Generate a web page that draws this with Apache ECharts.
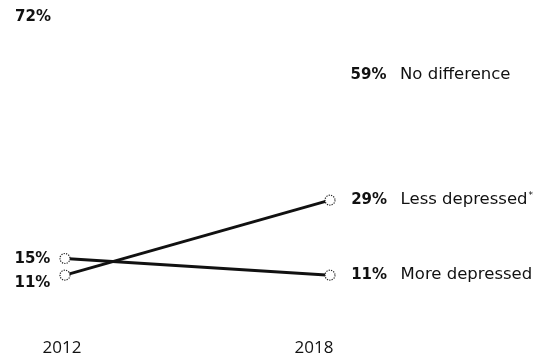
<!DOCTYPE html>
<html>
<head>
<meta charset="utf-8">
<script src="https://cdn.jsdelivr.net/npm/echarts@6/dist/echarts.min.js"></script>
<style>
  html, body { margin: 0; padding: 0; background: #fff; }
  #chart { width: 554px; height: 362px; }
</style>
</head>
<body>
<div id="chart"></div>
<script>
// years on the x axis
var years = ['2012', '2018'];

// series names and values (percent)
var names = ['No difference', 'Less depressed', 'More depressed'];
var noDifference = [72, 59];
var lessDepressed = [11, 29];
var moreDepressed = [15, 11];
var notes = ['', '*', ''];

var chart = echarts.init(document.getElementById('chart'));

// label offsets only to keep the left labels from overlapping
var leftOffsets = [[0, -4], [0, 8], [0, 1]];

function buildSeries(idx, values, visible) {
    var data = values.map(function(v, i) {
        var item = { value: v };
        if (i === 0) {
            item.label = {
                show: true,
                position: 'left',
                distance: 9,
                offset: leftOffsets[idx],
                formatter: '{p|' + v + '%}'
            };
        } else {
            item.label = {
                show: true,
                position: 'right',
                distance: 10,
                formatter: '{q|' + v + '%}{n|' + names[idx] + '}' + (notes[idx] ? '{s|' + notes[idx] + '}' : '')
            };
        }
        return item;
    });
    return {
        name: names[idx],
        type: 'line',
        data: data,
        symbol: 'circle',
        symbolSize: 10,
        showSymbol: true,
        silent: true,
        lineStyle: {
            color: visible ? '#111' : '#fff',
            width: visible ? 3 : 0,
            opacity: visible ? 1 : 0
        },
        itemStyle: {
            color: visible ? '#fff' : 'rgba(0,0,0,0)',
            borderColor: visible ? '#222' : 'rgba(0,0,0,0)',
            borderWidth: visible ? 1.2 : 0,
            borderType: 'dotted'
        },
        label: {
            color: '#111',
            rich: {
                p: { fontFamily: 'DejaVu Sans', fontWeight: 'bold', fontSize: 15, color: '#111' },
                q: { fontFamily: 'DejaVu Sans', fontWeight: 'bold', fontSize: 15, color: '#111', width: 47, align: 'right' },
                n: { fontFamily: 'DejaVu Sans', fontSize: 16.5, color: '#111', padding: [0, 0, 0, 8] },
                s: { fontFamily: 'DejaVu Sans', fontSize: 9, color: '#111', verticalAlign: 'top', padding: [0, 0, 9, 1] }
            }
        },
        z: visible ? 3 : 1
    };
}

var option = {
    animation: false,
    grid: { left: 65, right: 224, top: 21, bottom: 41, containLabel: false },
    xAxis: {
        type: 'category',
        data: years,
        boundaryGap: false,
        axisLine: { show: false },
        axisTick: { show: false },
        splitLine: { show: false },
        axisLabel: {
            margin: 19,
            formatter: function(v, i) {
                return i === 0 ? '{a|' + v + '}' : '{b|' + v + '}';
            },
            rich: {
                a: { fontFamily: 'Open Sans', fontSize: 17, color: '#111', padding: [0, 6, 0, 0] },
                b: { fontFamily: 'Open Sans', fontSize: 17, color: '#111', padding: [0, 32, 0, 0] }
            }
        }
    },
    yAxis: {
        type: 'value',
        min: 0,
        max: 72,
        show: false
    },
    series: [
        buildSeries(0, noDifference, false),
        buildSeries(1, lessDepressed, true),
        buildSeries(2, moreDepressed, true)
    ]
};

chart.setOption(option);
</script>
</body>
</html>
